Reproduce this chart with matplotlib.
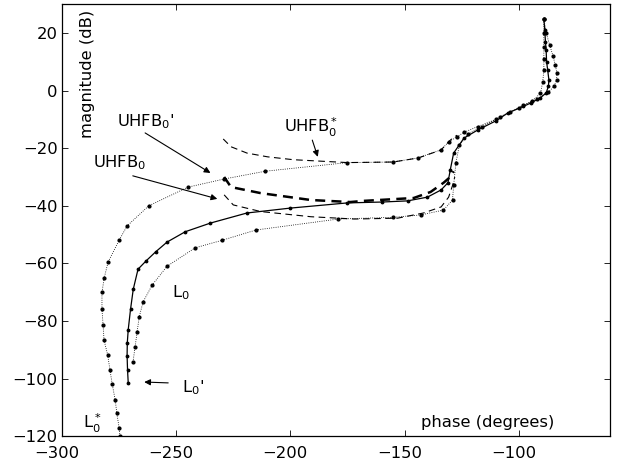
import matplotlib
matplotlib.use("Agg")
import matplotlib.pyplot as plt
from matplotlib.transforms import ScaledTranslation

plt.rcParams['font.family'] = ['DejaVu Sans']
plt.rcParams['mathtext.fontset'] = 'dejavusans'

# L0' : solid curve with markers
l0p_phase = [-271.0, -271.3, -271.5, -271.4, -271.0, -270.0, -268.8, -266.7, -263.0, -259.0, -254.0,
             -246.0, -235.0, -219.0, -200.0, -175.0, -160.0, -148.7, -140.0, -134.0, -131.0,
             -130.0, -128.5, -124.0, -118.0, -110.0, -104.8, -98.0, -94.7, -90.5, -88.0, -87.0,
             -86.8, -87.3, -87.8, -88.0, -88.3, -88.6, -89.0]
l0p_mag = [-101.5, -97.0, -92.0, -87.5, -83.0, -76.0, -69.0, -62.0, -59.0, -56.0, -52.6,
           -49.0, -46.0, -42.5, -40.8, -39.0, -38.7, -38.3, -37.0, -34.5, -32.0,
           -27.6, -21.7, -16.5, -13.7, -10.5, -7.8, -5.5, -4.3, -2.5, -0.8, 1.5,
           3.7, 7.0, 10.0, 14.0, 17.0, 21.0, 25.0]

# L0 : right dotted curve
l0_phase = [-268.9, -268.0, -267.1, -266.2, -264.5, -260.5, -254.0, -241.7, -230.0, -215.0, -179.0,
            -155.0, -143.0, -133.0, -129.0, -128.5, -127.5, -126.0, -122.0, -116.0, -108.0,
            -100.0, -94.0, -90.5, -89.5, -89.0, -89.0, -89.0, -89.0, -89.0]
l0_mag = [-94.2, -89.0, -83.8, -78.6, -73.4, -67.5, -61.0, -54.6, -52.0, -48.4, -44.6,
          -44.0, -43.2, -41.5, -38.0, -32.8, -25.0, -19.0, -15.0, -12.5, -9.0,
          -6.0, -3.5, -1.0, 3.0, 7.0, 11.0, 15.0, 20.0, 25.0]

# L0* : left dotted curve
l0s_phase = [-274.6, -275.0, -276.0, -276.7, -278.0, -279.0, -280.0, -281.6, -282.0, -282.5, -282.5,
             -281.5, -279.8, -275.0, -271.5, -262.0, -244.7, -229.0, -211.0, -175.0, -155.0,
             -144.3, -134.0, -130.7, -127.0, -124.0, -118.0, -110.0, -104.0, -98.0, -92.0,
             -87.0, -84.5, -83.4, -83.3, -84.0, -85.0, -86.5, -88.0, -89.0]
l0s_mag = [-120.0, -117.0, -112.0, -107.4, -102.0, -97.0, -91.8, -86.6, -81.4, -76.0, -70.0,
           -65.0, -59.5, -52.0, -47.0, -40.0, -33.5, -30.7, -28.0, -25.0, -24.8,
           -23.4, -20.6, -17.8, -16.0, -14.5, -12.5, -10.0, -7.5, -5.0, -3.0,
           -0.5, 1.5, 3.7, 6.0, 9.0, 12.0, 16.0, 20.0, 25.0]

# UHFB0* : upper thin dashed
u0s_phase = [-229.4, -226.0, -219.0, -210.0, -198.7, -175.0, -155.0, -144.0, -134.0, -130.7, -129.0, -127.0]
u0s_mag = [-16.8, -19.5, -21.7, -23.0, -24.0, -25.0, -24.8, -23.4, -20.6, -17.8, -16.5, -15.5]

# UHFB0' : middle thick dashed
u0p_phase = [-229.0, -226.0, -213.0, -191.0, -173.7, -168.0, -146.0, -138.6, -132.9, -130.0, -128.5]
u0p_mag = [-30.0, -33.5, -35.6, -38.0, -38.7, -38.3, -37.3, -35.2, -32.0, -30.0, -28.0]

# UHFB0 : lower thin dashed
u0_phase = [-229.0, -225.0, -213.0, -191.0, -172.0, -153.0, -141.7, -134.0, -130.7, -129.0, -128.0]
u0_mag = [-36.2, -39.7, -42.0, -43.8, -44.6, -44.3, -42.5, -40.4, -37.0, -33.0, -30.0]

xticks = [-300, -250, -200, -150, -100]
yticks = [-120, -100, -80, -60, -40, -20, 0, 20]

fig = plt.figure(figsize=(6.2, 4.66), dpi=100)
ax = fig.add_axes([0.1, 0.064, 0.884, 0.927])

ax.plot(l0s_phase, l0s_mag, color='black', linestyle=':', linewidth=0.6,
        marker='.', markersize=4)
ax.plot(l0_phase, l0_mag, color='black', linestyle=':', linewidth=0.6,
        marker='.', markersize=4)
ax.plot(l0p_phase, l0p_mag, color='black', linestyle='-', linewidth=0.9,
        marker='.', markersize=3.5)
ax.plot(u0s_phase, u0s_mag, color='black', linestyle=(0, (6, 4)), linewidth=0.8)
ax.plot(u0p_phase, u0p_mag, color='black', linestyle=(0, (4, 2.5)), linewidth=1.8)
ax.plot(u0_phase, u0_mag, color='black', linestyle=(0, (6, 4)), linewidth=0.8)

fs = 11.8
arrow = dict(arrowstyle='-|>', color='black', lw=0.8, mutation_scale=9, shrinkA=0, shrinkB=0)
ax.text(-276, -12.3, r"UHFB$_0$'", fontsize=fs, ha='left', va='baseline')
ax.annotate("", xy=(-235, -28.6), xytext=(-263.6, -14.7), arrowprops=arrow)
ax.text(-286.4, -26.5, r"UHFB$_0$", fontsize=fs, ha='left', va='baseline')
ax.annotate("", xy=(-232, -37.6), xytext=(-269, -29.6), arrowprops=arrow)
ax.text(-203, -14.4, r"UHFB$_0^*$", fontsize=fs, ha='left', va='baseline')
ax.annotate("", xy=(-188, -23), xytext=(-190.4, -17.2), arrowprops=arrow)
ax.text(-251.8, -71.7, r"L$_0$", fontsize=fs, ha='left', va='baseline')
ax.text(-247.4, -104.7, r"L$_0$'", fontsize=fs, ha='left', va='baseline')
ax.annotate("", xy=(-264, -101.2), xytext=(-253.5, -101.5), arrowprops=arrow)
ax.text(-291, -117.5, r"L$_0^*$", fontsize=fs, ha='left', va='baseline')

ax.text(-143, -116.8, "phase (degrees)", fontsize=fs, ha='left', va='baseline')
ax.text(-289, 28, "magnitude (dB)", fontsize=fs, rotation=90, ha='center', va='top')

ax.set_xlim(-300, -60)
ax.set_ylim(-120, 30)
ax.set_xticks(xticks)
ax.set_yticks(yticks)
ax.set_xticklabels([f"\u2212{abs(v)}" for v in xticks])
ax.set_yticklabels([f"\u2212{abs(v)}" if v < 0 else str(v) for v in yticks])
ax.tick_params(direction='in', top=True, right=True, labelsize=fs, length=4, width=0.6)
ax.tick_params(axis='x', pad=7)
ax.tick_params(axis='y', pad=3)
offset = ScaledTranslation(-5 / 100, 0, fig.dpi_scale_trans)
for lab in ax.get_xticklabels():
    lab.set_transform(lab.get_transform() + offset)
for s in ax.spines.values():
    s.set_linewidth(0.9)

fig.savefig("out.png", dpi=100)
